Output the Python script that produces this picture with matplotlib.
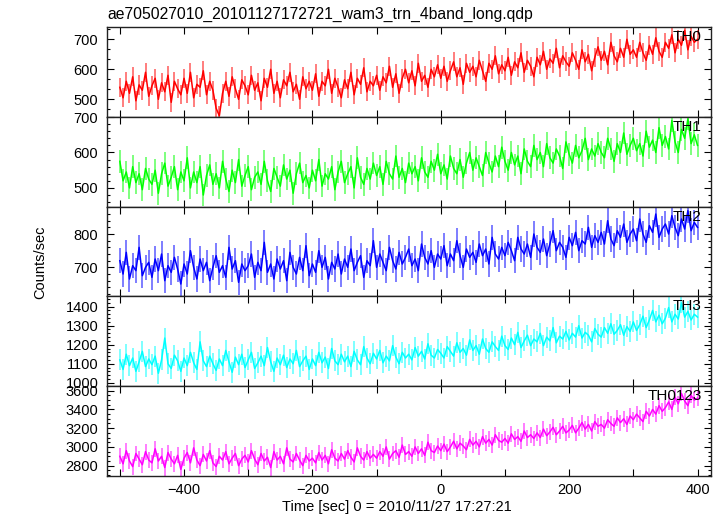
# ══════════════════════════════════════════════════════════════════════════════
# WAM light curve, 4 energy bands + sum (qdp style stacked panels)
# ══════════════════════════════════════════════════════════════════════════════

import matplotlib

matplotlib.use("Agg")
import matplotlib.pyplot as plt
import numpy as np
from matplotlib.ticker import MultipleLocator

plt.rcParams["font.family"] = ["Liberation Sans", "DejaVu Sans"]

# ── Data (5 s samples from -500 s to +400 s) ──────────────────────────────────
T_START, T_STOP, T_STEP = -500, 400, 5
time_sec = np.arange(T_START, T_STOP + T_STEP, T_STEP)

th0 = [
    540, 505, 560, 520, 575, 495, 548, 530, 590, 510,
    545, 570, 500, 555, 525, 580, 490, 560, 535, 515,
    570, 520, 590, 505, 550, 540, 595, 515, 560, 530,
    470, 445, 520, 560, 510, 575, 535, 500, 565, 545,
    515, 580, 530, 555, 495, 570, 540, 600, 520, 560,
    505, 565, 545, 590, 525, 550, 500, 575, 535, 560,
    530, 585, 510, 560, 545, 600, 520, 570, 540, 505,
    565, 535, 590, 515, 570, 550, 605, 525, 560, 545,
    580, 530, 575, 555, 610, 540, 585, 520, 570, 600,
    555, 595, 545, 620, 560, 580, 540, 600, 575, 615,
    570, 610, 560, 595, 625, 575, 605, 550, 620, 590,
    610, 575, 630, 595, 560, 620, 600, 645, 585, 615,
    595, 640, 580, 625, 605, 655, 590, 630, 610, 575,
    640, 615, 660, 600, 635, 620, 670, 605, 645, 625,
    610, 655, 630, 600, 665, 625, 650, 595, 640, 675,
    630, 660, 615, 690, 645, 625, 670, 640, 700, 650,
    665, 640, 690, 655, 630, 680, 650, 705, 660, 640,
    690, 670, 715, 655, 700, 680, 730, 665, 710, 690,
    700,
]

th1 = [
    575, 520, 545, 500, 560, 515, 540, 495, 555, 525,
    510, 550, 485, 540, 570, 505, 530, 560, 495, 545,
    520, 585, 500, 545, 515, 560, 480, 535, 565, 510,
    540, 500, 575, 525, 490, 550, 515, 580, 505, 535,
    560, 495, 530, 545, 510, 575, 520, 490, 555, 530,
    505, 565, 525, 550, 485, 540, 570, 515, 535, 500,
    550, 520, 580, 505, 540, 525, 560, 495, 545, 575,
    515, 540, 560, 500, 585, 530, 510, 555, 525, 570,
    535, 560, 510, 575, 540, 525, 590, 530, 555, 515,
    570, 540, 560, 520, 585, 545, 530, 575, 550, 595,
    540, 565, 525, 590, 555, 540, 580, 530, 570, 600,
    550, 585, 560, 535, 600, 570, 545, 590, 560, 615,
    575, 550, 600, 565, 590, 540, 610, 575, 560, 620,
    580, 600, 560, 625, 585, 570, 610, 590, 555, 630,
    595, 570, 620, 585, 605, 640, 580, 610, 590, 625,
    600, 585, 640, 610, 575, 625, 600, 655, 595, 620,
    640, 605, 625, 590, 660, 615, 635, 600, 670, 620,
    645, 610, 690, 630, 600, 665, 640, 695, 625, 650,
    620,
]

th2 = [
    720, 680, 745, 665, 705, 690, 760, 675, 700, 715,
    670, 725, 690, 740, 660, 705, 685, 730, 695, 650,
    710, 680, 750, 700, 665, 725, 690, 715, 660, 700,
    735, 685, 705, 670, 760, 695, 720, 655, 710, 690,
    705, 740, 670, 715, 690, 775, 685, 710, 665, 725,
    695, 720, 660, 745, 700, 680, 730, 690, 765, 675,
    710, 685, 750, 700, 730, 665, 715, 695, 740, 680,
    725, 700, 755, 690, 715, 735, 670, 720, 705, 780,
    700, 740, 715, 690, 760, 720, 695, 745, 710, 730,
    755, 705, 725, 690, 770, 730, 710, 750, 700, 740,
    725, 765, 705, 740, 720, 780, 735, 700, 755, 730,
    745, 715, 770, 735, 755, 710, 790, 740, 725, 760,
    735, 775, 750, 720, 790, 755, 740, 770, 730, 800,
    760, 745, 785, 735, 770, 810, 750, 775, 760, 730,
    790, 765, 805, 750, 780, 770, 820, 760, 795, 775,
    805, 770, 840, 785, 765, 810, 790, 830, 775, 800,
    815, 780, 845, 800, 775, 825, 805, 860, 790, 815,
    830, 800, 855, 820, 795, 845, 815, 870, 810, 835,
    820,
]

th3 = [
    1120, 1070, 1150, 1090, 1130, 1060, 1110, 1165, 1085, 1125,
    1095, 1140, 1050, 1120, 1235, 1100, 1075, 1145, 1115, 1060,
    1130, 1090, 1160, 1105, 1070, 1215, 1115, 1085, 1140, 1100,
    1065, 1125, 1090, 1170, 1110, 1055, 1135, 1095, 1150, 1080,
    1120, 1160, 1075, 1105, 1140, 1090, 1185, 1110, 1060, 1130,
    1095, 1145, 1080, 1125, 1100, 1170, 1085, 1115, 1140, 1070,
    1125, 1090, 1160, 1105, 1135, 1075, 1180, 1115, 1095, 1150,
    1110, 1140, 1085, 1165, 1120, 1095, 1190, 1130, 1100, 1155,
    1125, 1170, 1105, 1140, 1115, 1195, 1135, 1100, 1160, 1130,
    1150, 1120, 1185, 1140, 1165, 1125, 1205, 1145, 1130, 1175,
    1155, 1130, 1190, 1165, 1140, 1210, 1160, 1180, 1145, 1225,
    1170, 1195, 1150, 1230, 1180, 1160, 1215, 1190, 1170, 1245,
    1195, 1175, 1235, 1200, 1265, 1185, 1220, 1250, 1195, 1230,
    1215, 1260, 1195, 1240, 1220, 1290, 1210, 1245, 1230, 1270,
    1225, 1260, 1240, 1300, 1235, 1265, 1250, 1215, 1285, 1255,
    1240, 1290, 1260, 1310, 1255, 1275, 1305, 1250, 1295, 1270,
    1320, 1275, 1305, 1350, 1290, 1330, 1380, 1320, 1355, 1310,
    1340, 1395, 1320, 1360, 1335, 1420, 1345, 1375, 1330, 1360,
    1345,
]

th0123 = [
    2900, 2820, 2960, 2850, 2790, 2930, 2870, 2810, 2950, 2860,
    2830, 2980, 2850, 2900, 2780, 2940, 2870, 2820, 2910, 2760,
    2880, 2940, 2830, 2990, 2860, 2800, 2920, 2850, 2960, 2830,
    2790, 2900, 2860, 2950, 2820, 2880, 2930, 2800, 2870, 2910,
    2840, 2960, 2870, 2810, 2930, 2850, 2890, 2780, 2950, 2860,
    2900, 2820, 2990, 2870, 2840, 2930, 2860, 2800, 2910, 2850,
    2880, 2830, 2940, 2860, 2910, 2820, 2970, 2880, 2850, 2930,
    2870, 2960, 2890, 2840, 2990, 2900, 2860, 2950, 2880, 2920,
    2880, 2950, 2900, 3000, 2870, 2930, 2960, 2890, 3020, 2920,
    2950, 2900, 3000, 2930, 2980, 2910, 3050, 2960, 2940, 3010,
    2960, 3030, 2950, 3000, 3060, 2980, 3040, 3010, 2970, 3080,
    3020, 3060, 3000, 3110, 3040, 3080, 3020, 3130, 3070, 3050,
    3090, 3040, 3140, 3080, 3110, 3060, 3170, 3100, 3130, 3090,
    3150, 3100, 3190, 3120, 3160, 3210, 3130, 3170, 3220, 3150,
    3180, 3230, 3150, 3200, 3260, 3190, 3240, 3170, 3270, 3220,
    3240, 3200, 3290, 3250, 3220, 3310, 3260, 3300, 3240, 3330,
    3290, 3350, 3310, 3270, 3380, 3330, 3400, 3350, 3440, 3380,
    3420, 3480, 3400, 3530, 3460, 3570, 3490, 3440, 3550, 3500,
    3520,
]

# per-band 1-sigma error (counts/sec)
band_err = [32, 32, 38, 55, 85]
band_names = ["TH0", "TH1", "TH2", "TH3", "TH0123"]
band_series = [th0, th1, th2, th3, th0123]

# ── Panel styling ─────────────────────────────────────────────────────────────
band_colors = ["#ff0000", "#00ff00", "#0000ff", "#00ffff", "#ff00ff"]
band_ylim = [(442, 741), (447, 701), (614, 882), (983, 1456), (2693, 3650)]
band_major = [100, 100, 100, 100, 200]
band_minor = [100 / 3, 20, 20, 20, 50]

W, H = 723, 516
fig = plt.figure(figsize=(W / 100, H / 100), dpi=100)

ax_left, ax_right = 106.7, 711.0
edges = [27.0, 116.7, 206.7, 296.0, 386.0, 475.7]

for i, (name, vals) in enumerate(zip(band_names, band_series)):
    top, bot = edges[i], edges[i + 1]
    ax = fig.add_axes(
        [ax_left / W, 1 - bot / H, (ax_right - ax_left) / W, (bot - top) / H]
    )
    col = band_colors[i]
    ax.errorbar(
        time_sec,
        vals,
        yerr=band_err[i],
        color=col,
        lw=1.1,
        elinewidth=1.3,
        ecolor=matplotlib.colors.to_rgba(col, 0.55),
        capsize=0,
    )
    ax.set_xlim(-520.5, 421)
    ax.set_ylim(*band_ylim[i])

    ax.xaxis.set_major_locator(MultipleLocator(200))
    ax.xaxis.set_minor_locator(MultipleLocator(100))
    ax.yaxis.set_major_locator(MultipleLocator(band_major[i]))
    ax.yaxis.set_minor_locator(MultipleLocator(band_minor[i]))
    ax.tick_params(
        which="both", direction="in", top=True, right=True, width=0.8,
        labelsize=10.5, colors="black",
    )
    ax.tick_params(axis="y", which="major", length=5, pad=6)
    ax.tick_params(axis="y", which="minor", length=2.5)
    ax.tick_params(axis="x", which="both", length=5, pad=5)
    for sp in ax.spines.values():
        sp.set_linewidth(1.0)
        sp.set_color("#222222")

    if i < len(band_names) - 1:
        ax.tick_params(axis="x", labelbottom=False)
    else:
        ax.xaxis.set_major_formatter(
            matplotlib.ticker.FuncFormatter(lambda v, p: f"{v:.0f}".replace("-", "\u2212"))
        )

    ax.text(
        0.985, 0.965, name, transform=ax.transAxes, ha="right", va="top",
        fontsize=11, color="black",
    )

# ── Labels ───────────────────────────────────────────────────────────────────
fig.text(
    107 / W, 1 - 14 / H, "ae705027010_20101127172721_wam3_trn_4band_long.qdp",
    ha="left", va="center", fontsize=11.3,
)
fig.text(40 / W, 1 - 262 / H, "Counts/sec", rotation=90, ha="center", va="center",
         fontsize=10.5)
fig.text(397 / W, 1 - 507 / H, "Time [sec] 0 = 2010/11/27 17:27:21",
         ha="center", va="center", fontsize=10.5)

fig.savefig("out.png", dpi=100)
